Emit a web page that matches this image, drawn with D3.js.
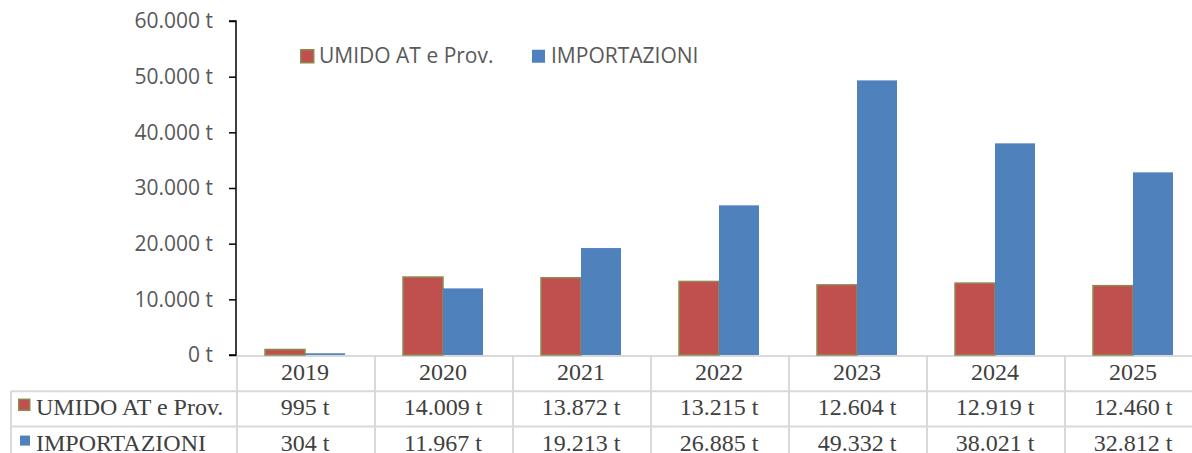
<!DOCTYPE html>
<html>
<head>
<meta charset="utf-8">
<script src="https://cdn.jsdelivr.net/npm/d3@7"></script>
<style>
  body { margin: 0; background: #fff; }
  svg { display: block; }
</style>
</head>
<body>
<svg id="chart" width="1192" height="453"></svg>
<script>
const years = ['2019', '2020', '2021', '2022', '2023', '2024', '2025'];
const seriesNames = ['UMIDO AT e Prov.', 'IMPORTAZIONI'];
const umido = [995, 14009, 13872, 13215, 12604, 12919, 12460];
const importazioni = [304, 11967, 19213, 26885, 49332, 38021, 32812];
const yTicks = [0, 10000, 20000, 30000, 40000, 50000, 60000];

const colors = ['#c0504d', '#4f81bd'];
const strokes = ['#8c8a52', 'none'];

const it = d3.formatLocale({ decimal: ',', thousands: '.', grouping: [3], currency: ['', ' €'] });
const fmt = v => it.format(',')(v) + ' t';

const svg = d3.select('#chart');

const plotTop = 21, plotBottom = 355, left = 236, colW = 138;
const rowH = 35.3;

const x = d3.scaleBand()
    .domain(years)
    .range([left, left + colW * years.length]);

const xs = d3.scaleBand()
    .domain(seriesNames)
    .range([0, colW])
    .paddingInner(0)
    .paddingOuter(0.725);

const y = d3.scaleLinear()
    .domain([0, 60000])
    .range([plotBottom, plotTop]);

const values = [umido, importazioni];

// table grid
const grid = svg.append('g')
    .attr('stroke', '#d9d9d9')
    .attr('stroke-width', 2);

grid.append('line')
    .attr('x1', left).attr('x2', 1192)
    .attr('y1', plotBottom + 1).attr('y2', plotBottom + 1);
[1, 2].forEach(r => {
    grid.append('line')
        .attr('x1', 11).attr('x2', 1192)
        .attr('y1', plotBottom + 1 + r * rowH).attr('y2', plotBottom + 1 + r * rowH);
});
grid.append('line')
    .attr('x1', 11).attr('x2', 11)
    .attr('y1', plotBottom + 1 + rowH).attr('y2', 453);
grid.selectAll('line.v')
    .data(d3.range(years.length + 1))
    .enter()
    .append('line')
    .attr('class', 'v')
    .attr('x1', i => left + i * colW + 1)
    .attr('x2', i => left + i * colW + 1)
    .attr('y1', plotBottom)
    .attr('y2', 453);

// bars
seriesNames.forEach((name, s) => {
    svg.append('g')
        .selectAll('rect')
        .data(values[s])
        .enter()
        .append('rect')
        .attr('x', (d, i) => x(years[i]) + xs(name))
        .attr('y', d => y(d))
        .attr('width', xs.bandwidth())
        .attr('height', d => plotBottom - y(d))
        .attr('fill', colors[s])
        .attr('stroke', strokes[s])
        .attr('stroke-width', 1.5);
});

// y axis
const yAxis = svg.append('g')
    .attr('transform', `translate(${left},0)`)
    .call(d3.axisLeft(y).tickValues(yTicks).tickSize(7).tickPadding(16).tickFormat(fmt));

yAxis.selectAll('path, line')
    .attr('stroke', '#000')
    .attr('stroke-width', 1.5);
yAxis.select('.domain')
    .attr('d', `M-7,${plotTop}H0V${plotBottom}H-7`);
yAxis.selectAll('text')
    .attr('fill', '#595959')
    .style('font-family', '"Open Sans", sans-serif')
    .style('font-size', '21px');

// legend
const legend = svg.append('g')
    .style('font-family', '"Open Sans", sans-serif')
    .style('font-size', '21px');

const legendX = [300, 532];
seriesNames.forEach((name, s) => {
    legend.append('rect')
        .attr('x', legendX[s] + (s ? 0 : 0.75))
        .attr('y', 49.75)
        .attr('width', 13)
        .attr('height', 13)
        .attr('fill', colors[s])
        .attr('stroke', strokes[s])
        .attr('stroke-width', 1.5);
    legend.append('text')
        .attr('x', legendX[s] + 19)
        .attr('y', 63)
        .attr('fill', '#595959')
        .text(name);
});

// table text
const table = svg.append('g')
    .style('font-family', '"Liberation Serif", "Times New Roman", serif')
    .style('font-size', '24px')
    .attr('fill', '#404040');

table.selectAll('text.year')
    .data(years)
    .enter()
    .append('text')
    .attr('class', 'year')
    .attr('x', d => x(d) + colW / 2)
    .attr('y', plotBottom + 25)
    .attr('text-anchor', 'middle')
    .text(d => d);

values.forEach((vals, s) => {
    const rowY = plotBottom + 25 + (s + 1) * rowH;
    table.selectAll('text.val' + s)
        .data(vals)
        .enter()
        .append('text')
        .attr('class', 'val' + s)
        .attr('x', (d, i) => x(years[i]) + colW / 2)
        .attr('y', rowY)
        .attr('text-anchor', 'middle')
        .text(d => fmt(d));

    table.append('rect')
        .attr('x', s ? 20 : 18.75)
        .attr('y', rowY - (s ? 15 : 16))
        .attr('width', s ? 10 : 11)
        .attr('height', s ? 10 : 11)
        .attr('fill', colors[s])
        .attr('stroke', strokes[s])
        .attr('stroke-width', 1.5);

    table.append('text')
        .attr('x', 36)
        .attr('y', rowY)
        .text(seriesNames[s]);
});
</script>
</body>
</html>
